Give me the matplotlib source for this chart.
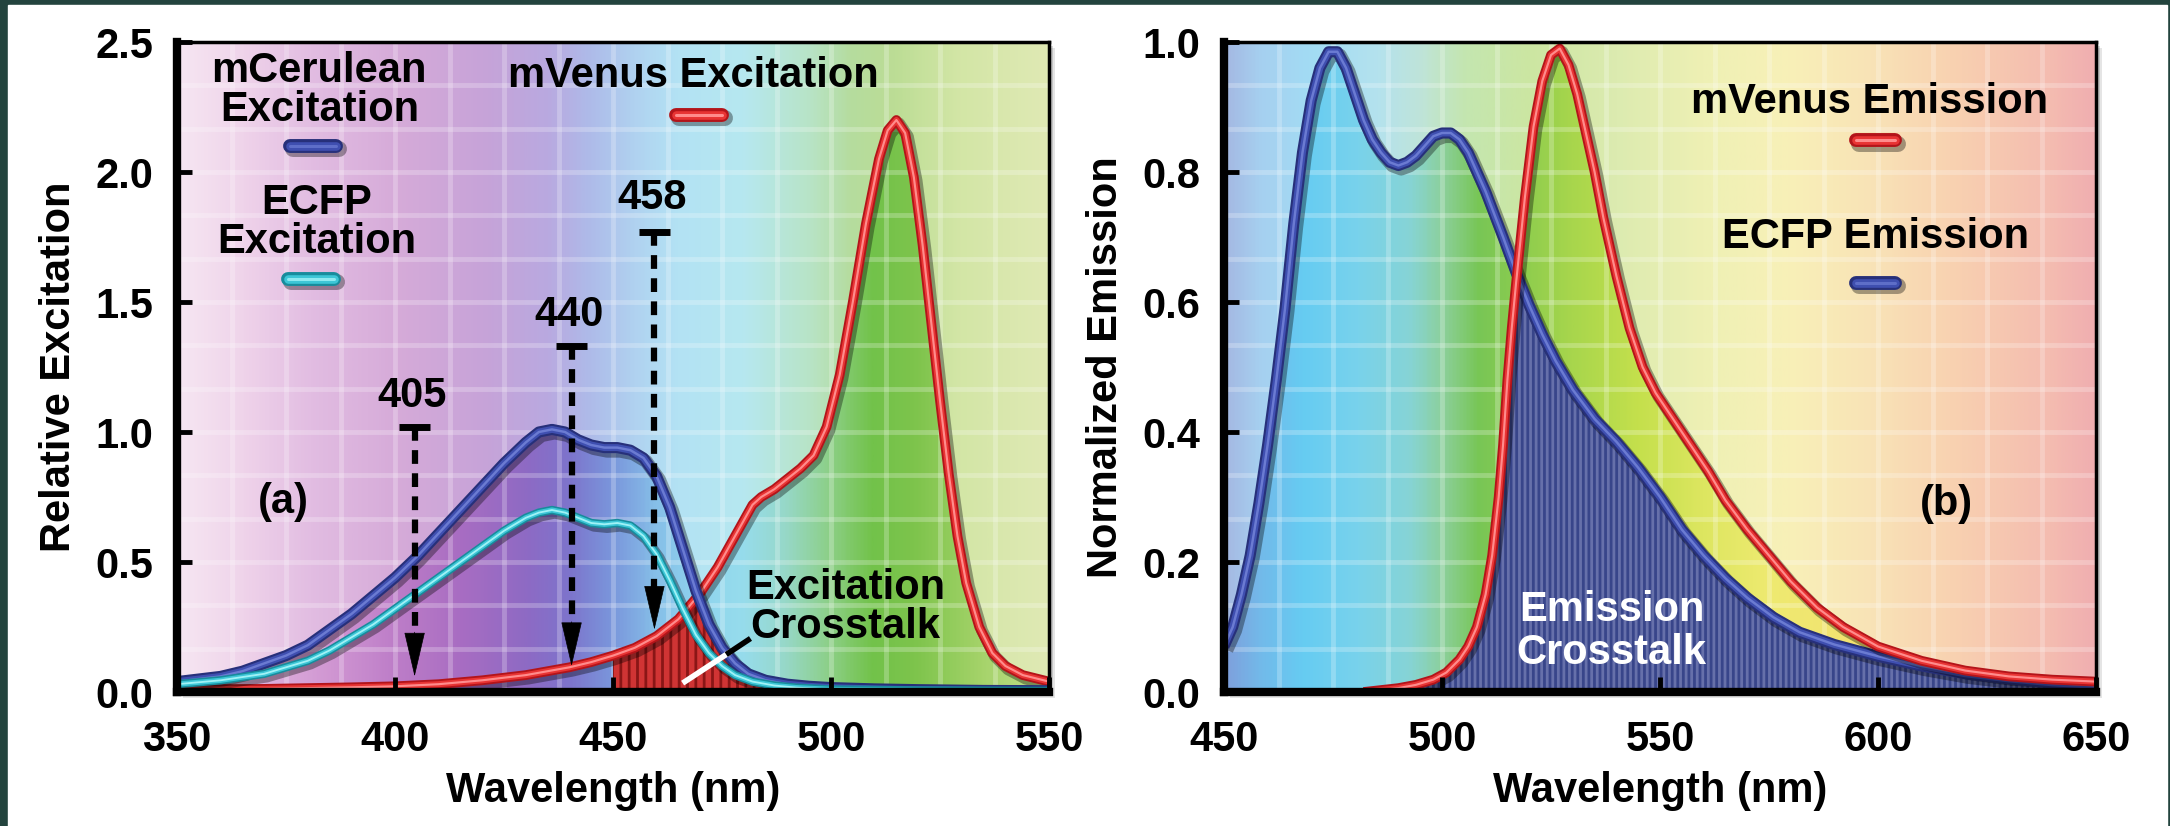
import numpy as np
import matplotlib
matplotlib.use('Agg')
import matplotlib.pyplot as plt
import matplotlib.patheffects as pe
from matplotlib.colors import LinearSegmentedColormap
from matplotlib.patches import Polygon, Rectangle

plt.rcParams['font.family'] = ['Liberation Sans', 'DejaVu Sans']
plt.rcParams['font.weight'] = 'bold'
plt.rcParams['axes.labelweight'] = 'bold'
plt.rcParams['hatch.linewidth'] = 2.0

# %% panel (a): excitation spectra
cer_ex_nm = [350, 355, 360, 365, 370, 375, 380, 385, 390, 395, 400, 405, 410, 415, 420, 425, 430, 433,
             436, 439, 442, 445, 448, 451, 454, 457, 460, 463, 466, 469, 472, 475, 478, 481, 485, 490,
             495, 500, 510, 520, 535, 550]
cer_ex = [0.04, 0.05, 0.06, 0.08, 0.11, 0.14, 0.18, 0.24, 0.30, 0.37, 0.44, 0.52, 0.61, 0.70, 0.79, 0.88,
          0.96, 1.00, 1.01, 1.00, 0.97, 0.95, 0.94, 0.94, 0.93, 0.90, 0.83, 0.71, 0.55, 0.39, 0.26, 0.17,
          0.11, 0.07, 0.045, 0.03, 0.022, 0.017, 0.012, 0.009, 0.006, 0.005]

ecfp_ex_nm = [350, 360, 370, 380, 385, 390, 395, 400, 405, 410, 415, 420, 425, 430, 433, 436, 439, 442,
              445, 448, 451, 454, 457, 460, 463, 466, 469, 472, 475, 478, 482, 487, 492, 500, 520, 550]
ecfp_ex = [0.03, 0.045, 0.07, 0.12, 0.16, 0.21, 0.26, 0.32, 0.38, 0.44, 0.50, 0.56, 0.62, 0.67, 0.69,
           0.70, 0.69, 0.67, 0.65, 0.645, 0.65, 0.64, 0.60, 0.53, 0.43, 0.32, 0.22, 0.15, 0.10, 0.065,
           0.04, 0.025, 0.017, 0.01, 0.006, 0.004]

ven_ex_nm = [350, 370, 390, 400, 410, 420, 430, 440, 445, 450, 455, 460, 465, 470, 474, 477, 480, 482,
             484, 487, 490, 493, 496, 499, 502, 505, 508, 511, 513, 515, 517, 519, 521, 523, 525, 527,
             529, 531, 534, 537, 540, 544, 550]
ven_ex = [0.01, 0.012, 0.018, 0.022, 0.03, 0.045, 0.065, 0.095, 0.115, 0.14, 0.17, 0.215, 0.28, 0.38,
          0.48, 0.57, 0.66, 0.72, 0.75, 0.78, 0.82, 0.86, 0.91, 1.02, 1.22, 1.50, 1.80, 2.05, 2.16, 2.20,
          2.15, 1.98, 1.72, 1.42, 1.12, 0.84, 0.60, 0.42, 0.25, 0.15, 0.10, 0.065, 0.04]

laser_labels = ['405', '440', '458']
laser_x = [404.5, 440.5, 459.5]
laser_top = [1.02, 1.33, 1.77]
laser_tip = [0.06, 0.10, 0.24]
laser_label_y = [1.14, 1.45, 1.90]

# %% panel (b): emission spectra
ecfp_em_nm = [450, 452, 454, 456, 458, 460, 462, 464, 466, 468, 470, 472, 474, 476, 478, 480, 482, 484,
              486, 488, 490, 492, 494, 496, 498, 500, 502, 504, 506, 508, 510, 512, 514, 517, 520, 523,
              526, 530, 535, 540, 545, 550, 555, 560, 565, 570, 576, 582, 590, 600, 610, 620, 630, 640, 650]
ecfp_em = [0.07, 0.10, 0.15, 0.21, 0.29, 0.38, 0.48, 0.59, 0.72, 0.83, 0.91, 0.96, 0.985, 0.985, 0.96,
           0.92, 0.88, 0.85, 0.83, 0.815, 0.81, 0.815, 0.825, 0.84, 0.855, 0.86, 0.86, 0.85, 0.83, 0.80,
           0.77, 0.735, 0.70, 0.645, 0.595, 0.55, 0.51, 0.465, 0.42, 0.385, 0.345, 0.30, 0.25, 0.21,
           0.175, 0.145, 0.115, 0.092, 0.073, 0.055, 0.04, 0.028, 0.02, 0.014, 0.01]

ven_em_nm = [482, 486, 490, 494, 498, 501, 504, 506, 508, 510, 511.5, 513, 514, 515, 516, 517, 519, 521,
             523, 525, 527, 529, 531, 533, 535, 537, 540, 543, 546, 549, 552, 555, 558, 561, 565, 570,
             575, 580, 586, 592, 600, 610, 620, 630, 640, 650]
ven_em = [0.0, 0.003, 0.006, 0.011, 0.019, 0.03, 0.05, 0.07, 0.10, 0.15, 0.21, 0.30, 0.38, 0.48, 0.56,
          0.63, 0.76, 0.87, 0.94, 0.98, 0.99, 0.965, 0.92, 0.86, 0.80, 0.73, 0.64, 0.56, 0.50, 0.46,
          0.43, 0.40, 0.37, 0.34, 0.295, 0.25, 0.21, 0.17, 0.13, 0.10, 0.07, 0.048, 0.033, 0.024,
          0.019, 0.016]

# background colour stops (nm, colour): pale and saturated (under the curves)
bg_a = [(350, '#f6e6f2'), (365, '#efd3ea'), (380, '#e2bde2'), (400, '#d6abd9'), (420, '#c7a3d8'),
        (435, '#b9a9e0'), (445, '#aebbe9'), (455, '#b0d2f0'), (465, '#b3e2f4'), (480, '#b6e8f0'),
        (495, '#b8e4c8'), (505, '#b5dc9e'), (515, '#bcdd95'), (530, '#d3e6a6'), (550, '#dfe9b4')]
sat_a = [(350, '#e9c8e6'), (370, '#deb0dd'), (385, '#d096d2'), (400, '#bd7dc8'), (415, '#a86dc2'),
         (430, '#8e6ac4'), (440, '#7d74cc'), (450, '#7a97dc'), (460, '#86bfe8'), (470, '#8fd4ee'),
         (480, '#96dcec'), (490, '#97d8c8'), (500, '#8ccf86'), (510, '#72c24a'), (520, '#7ec44c'),
         (535, '#a5d36a'), (550, '#c2de8a')]
bg_b = [(450, '#a4b8e2'), (458, '#a6d0f0'), (470, '#a2dcf4'), (485, '#b4e2ee'), (495, '#bfe4d8'),
        (505, '#c4e6b0'), (520, '#cce6a2'), (540, '#dcebb0'), (560, '#eef0b4'), (580, '#f8f0b8'),
        (600, '#f9e2b6'), (620, '#f8cfb0'), (640, '#f4bcb0'), (650, '#f0aeb0')]
sat_b = [(450, '#7f9fdc'), (458, '#72baea'), (468, '#66ccf2'), (480, '#78d2ec'), (492, '#86d4d6'),
         (500, '#8cd09c'), (508, '#78c656'), (518, '#8ccc4e'), (530, '#a8d64c'), (545, '#c4e04c'),
         (560, '#dde660'), (575, '#eeea70'), (600, '#f4e070'), (650, '#f0c070')]


def gradient(ax, stops, xlim, ylim, zorder, clip=None):
    lo, hi = xlim
    cmap = LinearSegmentedColormap.from_list(
        'spec', [((nm - lo) / (hi - lo), c) for nm, c in stops])
    img = cmap(np.linspace(0, 1, 500))[None, :, :3]
    im = ax.imshow(img, extent=[lo, hi, ylim[0], ylim[1]], aspect='auto',
                   zorder=zorder, interpolation='bilinear')
    if clip is not None:
        im.set_clip_path(clip)
    return im


def area(ax, x, y, **kw):
    x = np.asarray(x, float)
    y = np.asarray(y, float)
    verts = np.column_stack([np.r_[x[0], x, x[-1]], np.r_[0, y, 0]])
    kw.setdefault('facecolor', 'none')
    kw.setdefault('edgecolor', 'none')
    p = Polygon(verts, closed=True, transform=ax.transData, **kw)
    ax.add_patch(p)
    return p


def tube(ax, x, y, dark, mid, light, lw, z=5, cap='butt'):
    ax.plot(x, y, color=light, lw=lw * 0.22, zorder=z, solid_capstyle=cap,
            path_effects=[pe.SimpleLineShadow(offset=(2, -2.5), shadow_color='k', alpha=0.35,
                                              linewidth=lw + 1.5, capstyle=cap),
                          pe.Stroke(linewidth=lw, foreground=dark, capstyle=cap),
                          pe.Stroke(linewidth=lw * 0.62, foreground=mid, capstyle=cap),
                          pe.Normal()])


def frame(ax, xlim, ylim, xticks, yticks, ylabel, ngrid_x=16, ngrid_y=15):
    ax.set_xlim(*xlim)
    ax.set_ylim(*ylim)
    for gx in np.linspace(xlim[0], xlim[1], ngrid_x + 1)[1:-1]:
        ax.axvline(gx, color='white', alpha=0.24, lw=3.5, zorder=2)
    for gy in np.linspace(ylim[0], ylim[1], ngrid_y + 1)[1:-1]:
        ax.axhline(gy, color='white', alpha=0.24, lw=3.5, zorder=2)
    ax.set_xticks(xticks)
    ax.set_yticks(yticks)
    ax.set_yticklabels(['%.1f' % v for v in yticks])
    ax.tick_params(direction='in', length=11, width=3.5, labelsize=30)
    ax.tick_params(axis='x', pad=20)
    ax.tick_params(axis='y', pad=17)
    for s in ['left', 'bottom']:
        ax.spines[s].set_linewidth(6)
    for s in ['top', 'right']:
        ax.spines[s].set_linewidth(2.5)
    for s in ax.spines.values():
        s.set_zorder(12)
    ax.xaxis.set_zorder(11)
    ax.yaxis.set_zorder(11)
    ax.set_xlabel('Wavelength (nm)', fontsize=30, fontweight='bold', labelpad=8)
    ax.set_ylabel(ylabel, fontsize=30, fontweight='bold', labelpad=12)


fig = plt.figure(figsize=(21.7, 8.26), dpi=100, facecolor='#23443e')
fig.patches.append(Rectangle((8 / 2170, 0), 2159 / 2170, 821 / 826, transform=fig.transFigure,
                             color='white', zorder=-10))

pos_a = [177 / 2170, 1 - 692 / 826, 872 / 2170, 650 / 826]
pos_b = [1224 / 2170, 1 - 692 / 826, 872 / 2170, 650 / 826]
for p in (pos_a, pos_b):
    for k, a in enumerate([0.10, 0.14, 0.22]):
        off = (6 - 2 * k)
        fig.patches.append(Rectangle((p[0] + off / 2170, p[1] - off / 826), p[2], p[3],
                                     transform=fig.transFigure, color='k', alpha=a,
                                     lw=0, zorder=-5))

# %% (a) excitation
ax1 = fig.add_axes(pos_a)
gradient(ax1, bg_a, (350, 550), (0, 2.5), 0)
cer_area = area(ax1, cer_ex_nm, cer_ex)
ven_area = area(ax1, ven_ex_nm, ven_ex)
gradient(ax1, sat_a, (350, 550), (0, 2.5), 1, clip=cer_area)
gradient(ax1, sat_a, (350, 550), (0, 2.5), 1, clip=ven_area)

sel = np.array(ven_ex_nm) >= 450
ct = area(ax1, np.array(ven_ex_nm)[sel], np.array(ven_ex)[sel], facecolor='#d03434',
          edgecolor='#8a1616', hatch='||', lw=0, zorder=3)
ct.set_clip_path(cer_area)

tube(ax1, ven_ex_nm, ven_ex, '#b3141a', '#e83434', '#ff8c8c', 7)
tube(ax1, cer_ex_nm, cer_ex, '#27307a', '#3f4fb0', '#6b7bd2', 8)
tube(ax1, ecfp_ex_nm, ecfp_ex, '#178c9c', '#3cc6d6', '#a0f2f6', 6)

for lab, x, top, tip, ly in zip(laser_labels, laser_x, laser_top, laser_tip, laser_label_y):
    ax1.plot([x, x], [top, tip + 0.12], color='k', lw=4.5, ls=(0, (2.2, 1.5)), zorder=7)
    ax1.plot([x - 3.6, x + 3.6], [top, top], color='k', lw=5, solid_capstyle='butt', zorder=7)
    ax1.annotate('', xy=(x, tip), xytext=(x, tip + 0.17), zorder=7,
                 arrowprops=dict(arrowstyle='-|>,head_length=1.5,head_width=0.35', color='k',
                                 lw=0.5, mutation_scale=20, shrinkA=0, shrinkB=0))
    ax1.text(x - 0.5, ly, lab, ha='center', va='center', fontsize=30, zorder=8)

ax1.text(382.6, 2.39, 'mCerulean', ha='center', va='center', fontsize=30, zorder=8)
ax1.text(382.8, 2.24, 'Excitation', ha='center', va='center', fontsize=30, zorder=8)
tube(ax1, [376, 386.5], [2.10, 2.10], '#27307a', '#3f4fb0', '#5e6ec8', 10, z=8, cap='round')
ax1.text(382, 1.88, 'ECFP', ha='center', va='center', fontsize=30, zorder=8)
ax1.text(382, 1.73, 'Excitation', ha='center', va='center', fontsize=30, zorder=8)
tube(ax1, [375.5, 386], [1.59, 1.59], '#178c9c', '#3cc6d6', '#8eeaf0', 10, z=8, cap='round')
ax1.text(468.5, 2.37, 'mVenus Excitation', ha='center', va='center', fontsize=30, zorder=8)
tube(ax1, [464.5, 475], [2.22, 2.22], '#b3141a', '#e83434', '#ff8c8c', 10, z=8, cap='round')
ax1.text(374.3, 0.73, '(a)', ha='center', va='center', fontsize=30, zorder=8)
ax1.text(503.3, 0.40, 'Excitation', ha='center', va='center', fontsize=30, zorder=8)
ax1.text(503.3, 0.25, 'Crosstalk', ha='center', va='center', fontsize=30, zorder=8)
ax1.plot([466.5, 476.5], [0.04, 0.15], color='white', lw=4, zorder=8)
ax1.plot([476.5, 481], [0.15, 0.20], color='k', lw=4, zorder=8)

frame(ax1, (350, 550), (0, 2.5), [350, 400, 450, 500, 550], [0, 0.5, 1.0, 1.5, 2.0, 2.5],
      'Relative Excitation')

# %% (b) emission
ax2 = fig.add_axes(pos_b)
gradient(ax2, bg_b, (450, 650), (0, 1.0), 0)
ecfp_area = area(ax2, ecfp_em_nm, ecfp_em)
venem_area = area(ax2, ven_em_nm, ven_em)
gradient(ax2, sat_b, (450, 650), (0, 1.0), 1, clip=ecfp_area)
gradient(ax2, sat_b, (450, 650), (0, 1.0), 1, clip=venem_area)

ct2 = area(ax2, ven_em_nm, ven_em, facecolor='#38458a', edgecolor='#6670aa', hatch='|||',
           lw=0, zorder=3)
ct2.set_clip_path(ecfp_area)

tube(ax2, ecfp_em_nm, ecfp_em, '#27307a', '#3f4fb0', '#6b7bd2', 8)
tube(ax2, ven_em_nm, ven_em, '#b3141a', '#e83434', '#ff8c8c', 7)

ax2.text(598, 0.908, 'mVenus Emission', ha='center', va='center', fontsize=30, zorder=8)
tube(ax2, [595, 604], [0.849, 0.849], '#b3141a', '#e83434', '#ff8c8c', 10, z=8, cap='round')
ax2.text(599.5, 0.70, 'ECFP Emission', ha='center', va='center', fontsize=30, zorder=8)
tube(ax2, [595, 604], [0.63, 0.63], '#27307a', '#3f4fb0', '#5e6ec8', 10, z=8, cap='round')
ax2.text(615.8, 0.29, '(b)', ha='center', va='center', fontsize=30, zorder=8)
ax2.text(538.9, 0.126, 'Emission', ha='center', va='center', fontsize=30, color='white', zorder=8)
ax2.text(538.9, 0.06, 'Crosstalk', ha='center', va='center', fontsize=30, color='white', zorder=8)

frame(ax2, (450, 650), (0, 1.0), [450, 500, 550, 600, 650], [0, 0.2, 0.4, 0.6, 0.8, 1.0],
      'Normalized Emission')

fig.savefig('out.png', dpi=100, facecolor=fig.get_facecolor())
